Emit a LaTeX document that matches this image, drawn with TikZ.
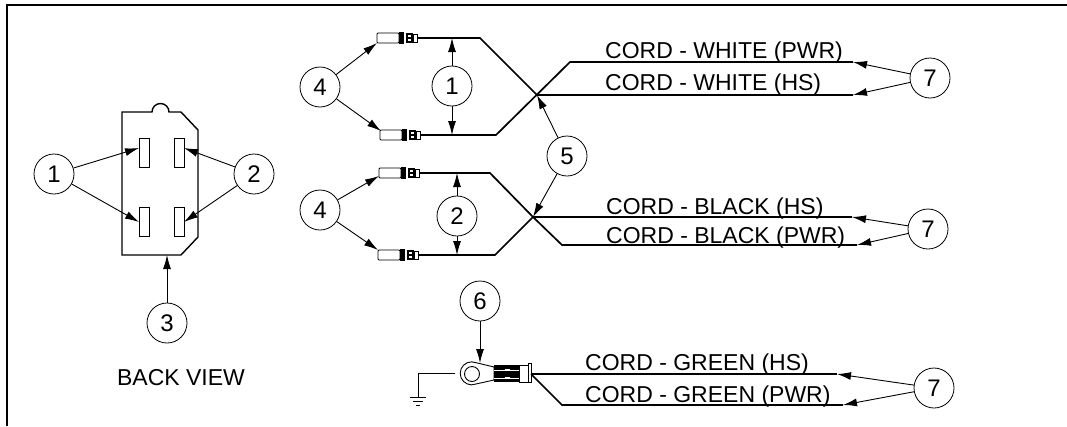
\documentclass[tikz,border=0pt]{standalone}
\usepackage{fontspec}
\setmainfont{Liberation Sans}
\usetikzlibrary{arrows.meta}
\tikzset{x=1pt,y=-1pt}
\tikzset{Callout/.style ={shape=circle,draw,line width=0.8pt,minimum size=40pt,inner sep=0pt,font=\fontsize{24}{24}\selectfont}}
\tikzset{Leader/.style ={line width=0.9pt,-{Latex[length=14pt,width=8pt]}}}
\tikzset{Wire/.style ={line width=1.7pt,line join=miter}}
\tikzset{Cord/.style ={anchor=base west,inner sep=0pt,font=\fontsize{23}{24}\selectfont}}
\newcommand{\Plug}[2]{%
\draw[line width=0.8pt,rounded corners=1pt] (#1,#2-5) rectangle (#1+22,#2+5);
\fill (#1+22,#2-6) rectangle (#1+27,#2+6);
\fill (#1+29,#2-5) rectangle (#1+36,#2+5);
\draw[line width=0.8pt] (#1+36,#2-4) rectangle (#1+40,#2+4);
\fill[white] (#1+31,#2-3) rectangle (#1+34,#2-1);
\fill[white] (#1+31,#2+1) rectangle (#1+34,#2+3);
}

\begin{document}
\begin{tikzpicture}
\useasboundingbox (0,0) rectangle (1067,426);
% frame
\draw[line width=2pt] (7,426) -- (7,5) -- (1067,5);
% back view
\draw[line width=1.4pt] (122,112) -- (152,112) arc[start angle=180,end angle=360,radius=8.5] -- (181,112) -- (198,130) -- (198,237) -- (181,255) -- (122,255) -- cycle;
\draw[line width=0.9pt] (139,138) rectangle (149,167);
\draw[line width=0.9pt] (174,138) rectangle (184,167);
\draw[line width=0.9pt] (139,207) rectangle (149,236);
\draw[line width=0.9pt] (174,207) rectangle (184,236);
\coordinate (S1) at (139,148);
\coordinate (S2) at (139,222);
\coordinate (S3) at (184,148);
\coordinate (S4) at (184,222);
\coordinate (H) at (167,255);
\node[Callout] (A1) at (54,174) {1};
\node[Callout] (A2) at (254,174) {2};
\node[Callout] (A3) at (167,323) {3};
\node[inner sep=0pt,font=\fontsize{23}{24}\selectfont] (Back) at (181,378) {BACK VIEW};
\draw[Leader] (A1) -- (S1);
\draw[Leader] (A1) -- (S2);
\draw[Leader] (A2) -- (S3);
\draw[Leader] (A2) -- (S4);
\draw[Leader] (A3) -- (H);
% white cord
\Plug{377}{38}
\Plug{380}{135}
\coordinate (W1) at (417,38);
\coordinate (W2) at (420,135);
\coordinate (WX) at (537,95);
\coordinate (WA) at (853,62);
\coordinate (WB) at (853,95);
\draw[Wire] (W1) -- (480,38) -- (WX) -- (WB);
\draw[Wire] (W2) -- (496,135) -- (570,62) -- (WA);
\node[Callout] (B4) at (320,87) {4};
\node[Callout] (B1) at (452,86) {1};
\coordinate (P1) at (377,43);
\coordinate (P2) at (381,131);
\coordinate (P3) at (452,38);
\coordinate (P4) at (452,135);
\draw[Leader] (B4) -- (P1);
\draw[Leader] (B4) -- (P2);
\draw[Leader] (B1) -- (P3);
\draw[Leader] (B1) -- (P4);
\node[Cord] (T1) at (605,58) {CORD - WHITE (PWR)};
\node[Cord] (T2) at (605,90) {CORD - WHITE (HS)};
% black cord
\Plug{379}{173}
\Plug{378}{255}
\coordinate (K1) at (419,173);
\coordinate (K2) at (418,255);
\coordinate (KX) at (533,217);
\coordinate (KA) at (852,217);
\coordinate (KB) at (857,245);
\draw[Wire] (K1) -- (490,173) -- (KX) -- (562,245) -- (KB);
\draw[Wire] (K2) -- (495,255) -- (KX) -- (KA);
\node[Callout] (C4) at (320,210) {4};
\node[Callout] (C2) at (457,216) {2};
\coordinate (Q1) at (379,176);
\coordinate (Q2) at (378,250);
\coordinate (Q3) at (457,173);
\coordinate (Q4) at (457,255);
\draw[Leader] (C4) -- (Q1);
\draw[Leader] (C4) -- (Q2);
\draw[Leader] (C2) -- (Q3);
\draw[Leader] (C2) -- (Q4);
\node[Cord] (T3) at (606,214) {CORD - BLACK (HS)};
\node[Cord] (T4) at (606,243) {CORD - BLACK (PWR)};
\node[Callout] (D5) at (567,156) {5};
\draw[Leader] (D5) -- (WX);
\draw[Leader] (D5) -- (KX);
\node[Callout] (E7) at (930,78) {7};
\draw[Leader] (E7) -- (WA);
\draw[Leader] (E7) -- (WB);
\node[Callout] (F7) at (928,229) {7};
\draw[Leader] (F7) -- (KA);
\draw[Leader] (F7) -- (KB);
% green cord
\draw[line width=0.9pt] (476,384) arc[start angle=68,end angle=292,radius=11.5] -- (494,367) -- (494,380) -- cycle;
\draw[line width=0.9pt] (472,374) circle[radius=7.5];
\fill (494,365) rectangle (519,382);
\draw[white,line width=0.7pt] (494,370) -- (519,370);
\draw[white,line width=0.7pt] (494,378) -- (519,378);
\fill[white] (505,368.5) rectangle (510,371);
\fill[white] (505,376.5) rectangle (510,379);
\draw[line width=0.9pt] (519,365) rectangle (528,382);
\draw[line width=0.9pt] (528,363) rectangle (531,382);
\coordinate (G1) at (531,374);
\coordinate (GA) at (837,374);
\coordinate (GB) at (843,405);
\draw[Wire] (G1) -- (GA);
\draw[Wire] (G1) -- (562,405) -- (GB);
\node[Cord] (T5) at (585,370) {CORD - GREEN (HS)};
\node[Cord] (T6) at (585,402) {CORD - GREEN (PWR)};
\node[Callout] (G6) at (480,301) {6};
\coordinate (L) at (480,363);
\draw[Leader] (G6) -- (L);
\node[Callout] (G7) at (934,388) {7};
\draw[Leader] (G7) -- (GA);
\draw[Leader] (G7) -- (GB);
\draw[line width=0.9pt] (455,373) -- (418,373) -- (418,397);
\draw[line width=0.9pt] (410,397) -- (426,397);
\draw[line width=0.9pt] (413,401) -- (423,401);
\draw[line width=0.9pt] (416,405) -- (420,405);
\end{tikzpicture}
\end{document}
